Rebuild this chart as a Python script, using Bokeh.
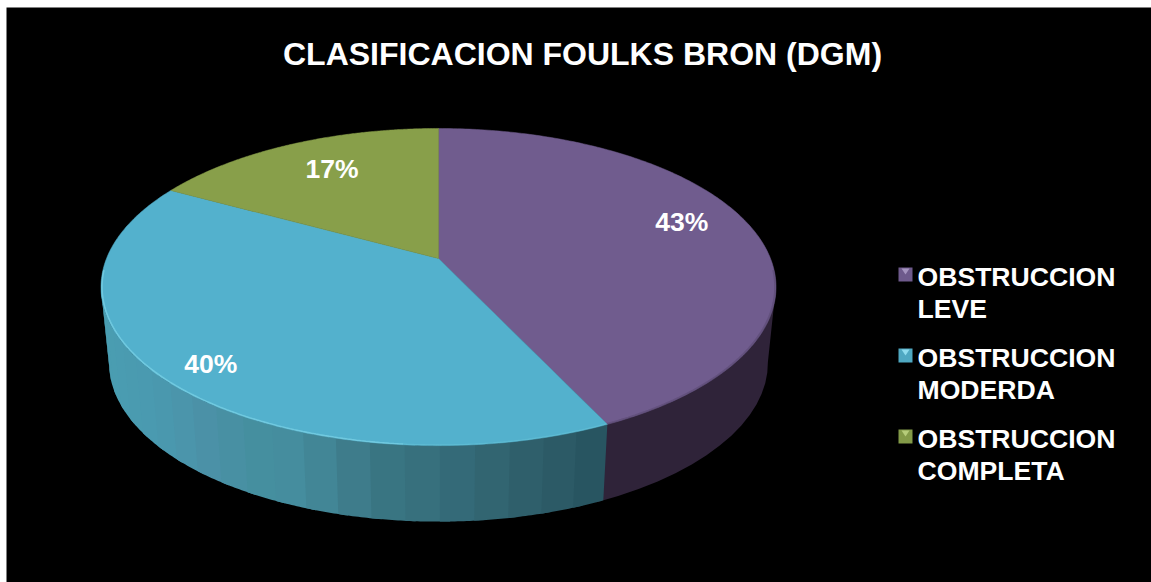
import numpy as np
from bokeh.plotting import figure
from bokeh.models import Range1d
from bokeh.core.properties import value
from bokeh.embed import file_html
from bokeh.resources import INLINE

# ---- data ----
title_text = "CLASIFICACION FOULKS BRON (DGM)"
categories = ["OBSTRUCCION\nLEVE", "OBSTRUCCION\nMODERDA", "OBSTRUCCION\nCOMPLETA"]
shares = [43, 40, 17]
share_labels = ["43%", "40%", "17%"]

# ---- style ----
top_colors = ["#705C8E", "#53B1CD", "#889F4A"]
legend_colors = ["#6E5A8C", "#4FA8C2", "#839A48"]
legend_light = ["#A594C0", "#8FDCEE", "#B6CC7A"]
purple_wall = "#2F2339"
wall_x_stops = [101, 150, 200, 250, 300, 340, 380, 438, 500, 550, 601]
wall_colors = [(74, 158, 178), (74, 154, 176), (76, 146, 168), (70, 144, 160), (69, 140, 158),
               (64, 128, 143), (58, 118, 131), (54, 110, 124), (50, 100, 112), (45, 92, 104), (40, 84, 96)]
FONT = "Liberation Sans"

# perspective projection of the pie's disc to page pixels
CX, CY, AX, BY, K, DEPTH, BOTTOM_SCALE = 438.0, 258.0, 332.0, -107.0, 0.18, 76.0, 0.976


def project(t, r=1.0, bottom=False):
    X, Y = r * np.sin(t), r * np.cos(t)
    d = 1 + K * Y
    x = AX * X / d
    y = (CY + BY * Y) / d
    if bottom:
        return CX + x * BOTTOM_SCALE, y + DEPTH
    return CX + x, y


fracs = np.array(shares) / sum(shares)
edges = np.concatenate([[0], np.cumsum(fracs)]) * 2 * np.pi

p = figure(width=1151, height=582, x_range=Range1d(0, 1151), y_range=Range1d(582, 0),
           toolbar_location=None, output_backend="svg", min_border=0,
           background_fill_color="#ffffff", border_fill_color="#ffffff", outline_line_color=None)
p.axis.visible = False
p.grid.visible = False

# black panel
p.quad(left=[6], right=[1151], top=[7], bottom=[582], fill_color="#000000", line_color=None)

TL, TR = np.deg2rad(100), np.deg2rad(260)


def wall_patch(t0, t1):
    ts = np.linspace(t0, t1, 16)
    xa, ya = project(ts)
    xb, yb = project(ts[::-1], bottom=True)
    return np.concatenate([xa, xb]), np.concatenate([ya, yb])


# purple wall
x, y = wall_patch(TL, edges[1] + 0.02)
p.patch(x, y, fill_color=purple_wall, line_color=None)

# blue wall as shaded bands, painted from the right so each one overlaps the last
BAND = np.deg2rad(5)
bt = np.append(np.arange(edges[1], TR, BAND), TR)
xs, ys, cols = [], [], []
for a, b in zip(bt[:-1], bt[1:]):
    x, y = wall_patch(max(a - BAND * 0.3, edges[1]), b)
    mid = project((a + b) / 2)[0]
    c = [int(np.interp(mid, wall_x_stops, [w[i] for w in wall_colors])) for i in range(3)]
    xs.append(x); ys.append(y); cols.append("#%02x%02x%02x" % tuple(c))
xs, ys, cols = xs[::-1], ys[::-1], cols[::-1]
p.patches(xs, ys, fill_color=cols, line_color=None)

# top faces
for i in range(3):
    ts = np.linspace(edges[i], edges[i + 1], 200)
    x, y = project(ts)
    p.patch(np.append(x, CX), np.append(y, CY), fill_color=top_colors[i], line_color=top_colors[i], line_width=0.5)

# rim highlights
ts = np.linspace(TR + 0.1, np.deg2rad(185), 120)
p.line(*project(ts, 0.997), line_color="#7AD2E6", line_width=1.6, line_alpha=0.75)
ts = np.linspace(np.deg2rad(185), edges[1], 60)
p.line(*project(ts, 0.997), line_color="#62BFD6", line_width=1.4, line_alpha=0.7)
ts = np.linspace(TL - 0.1, edges[1], 100)
p.line(*project(ts, 0.997), line_color="#5A4A72", line_width=1.6, line_alpha=0.6)

# percentage labels
mids = (edges[:-1] + edges[1:]) / 2
label_r = [0.78, 0.85, 0.72]
label_dy = [-11, 6, -4]
label_dx = [-2, 2, 3]
lx, ly = [], []
for m, r, dx, dy in zip(mids, label_r, label_dx, label_dy):
    a, b = project(m, r)
    lx.append(float(a) + dx); ly.append(float(b) + dy)
p.text(lx, ly, text=share_labels, text_color="#ffffff", text_font=value(FONT), text_font_style="bold",
       text_font_size="26.5px", text_align="center", text_baseline="middle")

# title
p.text([582], [53], text=[title_text], text_color="#ffffff", text_font=value(FONT), text_font_style="bold",
       text_font_size="32px", text_align="center", text_baseline="middle")

# legend
SW, LEFT, FIRST, STEP = 14, 898, 267, 81
for i, cat in enumerate(categories):
    top = FIRST + i * STEP
    p.quad(left=[LEFT], right=[LEFT + SW], top=[top], bottom=[top + SW], fill_color=legend_colors[i], line_color=None)
    p.patch([LEFT + 3, LEFT + SW - 3, LEFT + SW / 2], [top + 1, top + 1, top + 7], fill_color=legend_light[i], line_color=None)
    for j, line in enumerate(cat.split("\n")):
        p.text([917], [top + 9 + j * 32], text=[line], text_color="#ffffff", text_font=value(FONT),
               text_font_style="bold", text_font_size="26.6px", text_align="left", text_baseline="alphabetic")

open("out.html", "w").write(file_html(p, INLINE))
